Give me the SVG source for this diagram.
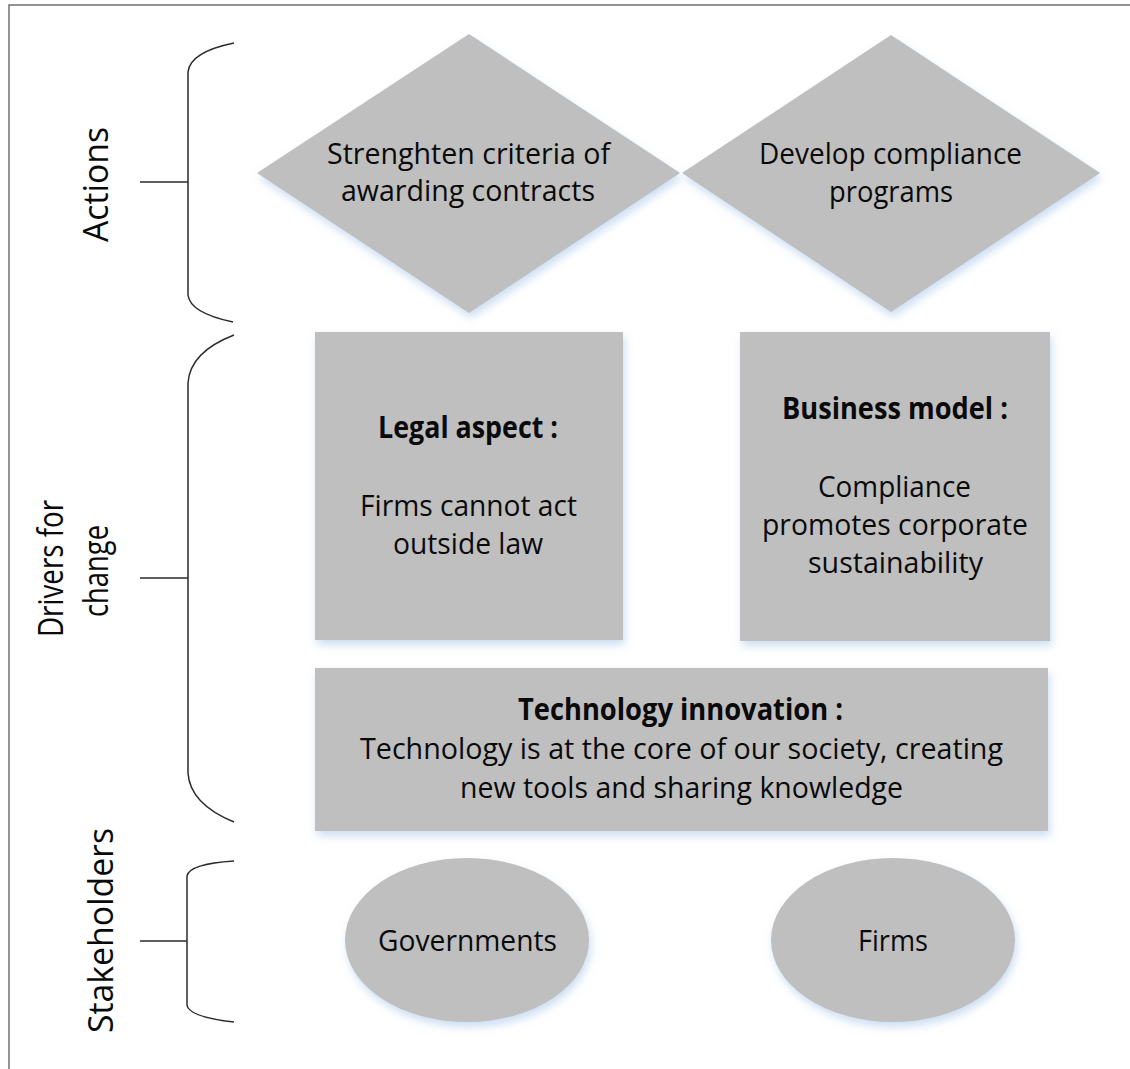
<svg xmlns="http://www.w3.org/2000/svg" width="1130" height="1069" viewBox="0 0 1130 1069">
  <style>
    .shape { fill: #bfbfbf; filter: url(#soft); }
    .lbl { font-family: "Open Sans", "Liberation Sans", sans-serif; font-size: 30px; fill: #0a0a0a; text-anchor: middle; }
    .b { font-weight: bold; }
    .side { font-family: "Open Sans", "Liberation Sans", sans-serif; font-size: 34px; fill: #0a0a0a; text-anchor: middle; }
    .brace { fill: none; stroke: #2b2b2b; stroke-width: 1.5; }
    .frame { fill: none; stroke: #707070; stroke-width: 1.5; }
  </style>
  <defs>
    <filter id="soft" x="-10%" y="-10%" width="125%" height="130%">
      <feGaussianBlur in="SourceAlpha" stdDeviation="4" result="blur"/>
      <feOffset in="blur" dx="2" dy="5" result="off"/>
      <feFlood flood-color="#bcd4ee" flood-opacity="0.75"/>
      <feComposite in2="off" operator="in" result="shadow"/>
      <feMerge>
        <feMergeNode in="shadow"/>
        <feMergeNode in="SourceGraphic"/>
      </feMerge>
    </filter>
  </defs>

  <rect width="1130" height="1069" fill="#ffffff"/>
  <path class="frame" d="M9,1069 V5 H1130"/>

  <!-- category labels -->
  <g id="label-actions">
    <text class="side" transform="translate(108,184.5) rotate(-90)" textLength="115" lengthAdjust="spacingAndGlyphs">Actions</text>
  </g>
  <g id="label-drivers">
    <text class="side" transform="translate(63,568.5) rotate(-90)" textLength="137" lengthAdjust="spacingAndGlyphs">Drivers for</text>
    <text class="side" transform="translate(108,571) rotate(-90)" textLength="92" lengthAdjust="spacingAndGlyphs">change</text>
  </g>
  <g id="label-stakeholders">
    <text class="side" transform="translate(113,930.5) rotate(-90)" textLength="205" lengthAdjust="spacingAndGlyphs">Stakeholders</text>
  </g>

  <!-- brackets -->
  <g id="connectors">
    <path class="brace" d="M234,43 Q190,52 188,72 V295 Q190,313 233,322 M140,182 H188"/>
    <path class="brace" d="M234,335 Q190,352 188,383 V773 Q190,804 234,822 M140,578 H188"/>
    <path class="brace" d="M234,861 Q189,864 187,876 V1005 Q189,1017 234,1022 M140,941 H187"/>
  </g>

  <!-- actions -->
  <g id="action-criteria">
    <polygon class="shape" points="469,34 680,173 469,313 257,173"/>
    <text class="lbl" x="468.5" y="164" textLength="283" lengthAdjust="spacingAndGlyphs">Strenghten criteria of</text>
    <text class="lbl" x="468" y="201" textLength="254" lengthAdjust="spacingAndGlyphs">awarding contracts</text>
  </g>
  <g id="action-compliance">
    <polygon class="shape" points="891,35 1100,173 891,312 682,173"/>
    <text class="lbl" x="890.5" y="164" textLength="263" lengthAdjust="spacingAndGlyphs">Develop compliance</text>
    <text class="lbl" x="891" y="202" textLength="124" lengthAdjust="spacingAndGlyphs">programs</text>
  </g>

  <!-- drivers for change -->
  <g id="driver-legal">
    <rect class="shape" x="315" y="332" width="308" height="308"/>
    <text class="lbl b" x="468" y="438" textLength="180" lengthAdjust="spacingAndGlyphs">Legal aspect :</text>
    <text class="lbl" x="468.5" y="516" textLength="217" lengthAdjust="spacingAndGlyphs">Firms cannot act</text>
    <text class="lbl" x="468" y="554" textLength="150" lengthAdjust="spacingAndGlyphs">outside law</text>
  </g>
  <g id="driver-business">
    <rect class="shape" x="740" y="332" width="310" height="309"/>
    <text class="lbl b" x="895" y="419" textLength="226" lengthAdjust="spacingAndGlyphs">Business model :</text>
    <text class="lbl" x="894.5" y="497" textLength="153" lengthAdjust="spacingAndGlyphs">Compliance</text>
    <text class="lbl" x="895" y="535" textLength="266" lengthAdjust="spacingAndGlyphs">promotes corporate</text>
    <text class="lbl" x="895.5" y="573" textLength="175" lengthAdjust="spacingAndGlyphs">sustainability</text>
  </g>
  <g id="driver-technology">
    <rect class="shape" x="315" y="668" width="733" height="163"/>
    <text class="lbl b" x="680.5" y="720" textLength="325" lengthAdjust="spacingAndGlyphs">Technology innovation :</text>
    <text class="lbl" x="681.5" y="759" textLength="643" lengthAdjust="spacingAndGlyphs">Technology is at the core of our society, creating</text>
    <text class="lbl" x="681.5" y="798" textLength="443" lengthAdjust="spacingAndGlyphs">new tools and sharing knowledge</text>
  </g>

  <!-- stakeholders -->
  <g id="stakeholder-governments">
    <ellipse class="shape" cx="467" cy="940" rx="122" ry="82"/>
    <text class="lbl" x="467.5" y="951" textLength="179" lengthAdjust="spacingAndGlyphs">Governments</text>
  </g>
  <g id="stakeholder-firms">
    <ellipse class="shape" cx="893" cy="940" rx="122" ry="82"/>
    <text class="lbl" x="893" y="951" textLength="70" lengthAdjust="spacingAndGlyphs">Firms</text>
  </g>
</svg>
